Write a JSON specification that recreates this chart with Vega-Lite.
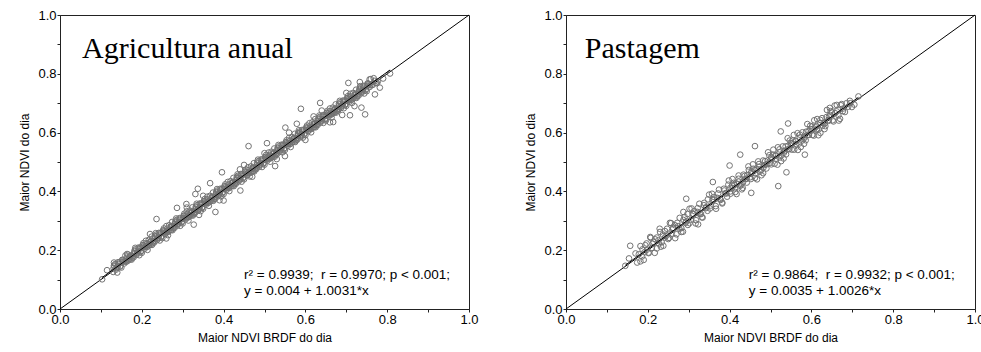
{
  "$schema": "https://vega.github.io/schema/vega-lite/v6.json",
  "background": "white",
  "padding": {"left": 18, "top": 8, "right": 0, "bottom": 0},
  "bounds": "flush",
  "spacing": 97,
  "datasets": {
    "agri": [
      {"x":0.130,"y":0.126},{"x":0.135,"y":0.153},{"x":0.140,"y":0.142},{"x":0.145,"y":0.158},{"x":0.150,"y":0.141},{"x":0.155,"y":0.164},{"x":0.160,"y":0.182},{"x":0.165,"y":0.163},{"x":0.170,"y":0.176},{"x":0.175,"y":0.168},
      {"x":0.180,"y":0.176},{"x":0.185,"y":0.203},{"x":0.190,"y":0.192},{"x":0.195,"y":0.208},{"x":0.200,"y":0.191},{"x":0.205,"y":0.214},{"x":0.210,"y":0.232},{"x":0.215,"y":0.213},{"x":0.220,"y":0.226},{"x":0.225,"y":0.218},
      {"x":0.230,"y":0.226},{"x":0.235,"y":0.253},{"x":0.240,"y":0.242},{"x":0.245,"y":0.258},{"x":0.250,"y":0.241},{"x":0.255,"y":0.264},{"x":0.260,"y":0.282},{"x":0.265,"y":0.263},{"x":0.270,"y":0.276},{"x":0.275,"y":0.268},
      {"x":0.280,"y":0.276},{"x":0.285,"y":0.303},{"x":0.290,"y":0.292},{"x":0.295,"y":0.308},{"x":0.300,"y":0.291},{"x":0.305,"y":0.314},{"x":0.310,"y":0.332},{"x":0.315,"y":0.313},{"x":0.320,"y":0.326},{"x":0.325,"y":0.318},
      {"x":0.330,"y":0.326},{"x":0.335,"y":0.353},{"x":0.340,"y":0.342},{"x":0.345,"y":0.358},{"x":0.350,"y":0.341},{"x":0.355,"y":0.364},{"x":0.360,"y":0.382},{"x":0.365,"y":0.363},{"x":0.370,"y":0.376},{"x":0.375,"y":0.368},
      {"x":0.380,"y":0.376},{"x":0.385,"y":0.403},{"x":0.390,"y":0.392},{"x":0.395,"y":0.408},{"x":0.400,"y":0.391},{"x":0.405,"y":0.414},{"x":0.410,"y":0.432},{"x":0.415,"y":0.413},{"x":0.420,"y":0.426},{"x":0.425,"y":0.418},
      {"x":0.430,"y":0.426},{"x":0.435,"y":0.453},{"x":0.440,"y":0.442},{"x":0.445,"y":0.458},{"x":0.450,"y":0.441},{"x":0.455,"y":0.464},{"x":0.460,"y":0.482},{"x":0.465,"y":0.463},{"x":0.470,"y":0.476},{"x":0.475,"y":0.468},
      {"x":0.480,"y":0.476},{"x":0.485,"y":0.503},{"x":0.490,"y":0.492},{"x":0.495,"y":0.508},{"x":0.500,"y":0.491},{"x":0.505,"y":0.514},{"x":0.510,"y":0.532},{"x":0.515,"y":0.513},{"x":0.520,"y":0.526},{"x":0.525,"y":0.518},
      {"x":0.530,"y":0.526},{"x":0.535,"y":0.553},{"x":0.540,"y":0.542},{"x":0.545,"y":0.558},{"x":0.550,"y":0.541},{"x":0.555,"y":0.564},{"x":0.560,"y":0.582},{"x":0.565,"y":0.563},{"x":0.570,"y":0.576},{"x":0.575,"y":0.568},
      {"x":0.580,"y":0.576},{"x":0.585,"y":0.603},{"x":0.590,"y":0.592},{"x":0.595,"y":0.608},{"x":0.600,"y":0.591},{"x":0.605,"y":0.614},{"x":0.610,"y":0.632},{"x":0.615,"y":0.613},{"x":0.620,"y":0.626},{"x":0.625,"y":0.618},
      {"x":0.630,"y":0.626},{"x":0.635,"y":0.653},{"x":0.640,"y":0.642},{"x":0.645,"y":0.658},{"x":0.650,"y":0.641},{"x":0.655,"y":0.664},{"x":0.660,"y":0.682},{"x":0.665,"y":0.663},{"x":0.670,"y":0.676},{"x":0.675,"y":0.668},
      {"x":0.680,"y":0.676},{"x":0.685,"y":0.703},{"x":0.690,"y":0.692},{"x":0.695,"y":0.708},{"x":0.700,"y":0.691},{"x":0.705,"y":0.714},{"x":0.710,"y":0.732},{"x":0.715,"y":0.713},{"x":0.720,"y":0.726},{"x":0.725,"y":0.718},
      {"x":0.730,"y":0.726},{"x":0.735,"y":0.753},{"x":0.740,"y":0.742},{"x":0.745,"y":0.758},{"x":0.750,"y":0.741},{"x":0.755,"y":0.764},{"x":0.760,"y":0.782},{"x":0.765,"y":0.763},{"x":0.770,"y":0.776},{"x":0.775,"y":0.768},
      {"x":0.132,"y":0.148},{"x":0.137,"y":0.134},{"x":0.142,"y":0.159},{"x":0.147,"y":0.144},{"x":0.152,"y":0.167},{"x":0.157,"y":0.155},{"x":0.162,"y":0.161},{"x":0.167,"y":0.185},{"x":0.172,"y":0.169},{"x":0.177,"y":0.174},
      {"x":0.182,"y":0.198},{"x":0.187,"y":0.184},{"x":0.192,"y":0.209},{"x":0.197,"y":0.194},{"x":0.202,"y":0.217},{"x":0.207,"y":0.205},{"x":0.212,"y":0.211},{"x":0.217,"y":0.235},{"x":0.222,"y":0.219},{"x":0.227,"y":0.224},
      {"x":0.232,"y":0.248},{"x":0.237,"y":0.234},{"x":0.242,"y":0.259},{"x":0.247,"y":0.244},{"x":0.252,"y":0.267},{"x":0.257,"y":0.255},{"x":0.262,"y":0.261},{"x":0.267,"y":0.285},{"x":0.272,"y":0.269},{"x":0.277,"y":0.274},
      {"x":0.282,"y":0.298},{"x":0.287,"y":0.284},{"x":0.292,"y":0.309},{"x":0.297,"y":0.294},{"x":0.302,"y":0.317},{"x":0.307,"y":0.305},{"x":0.312,"y":0.311},{"x":0.317,"y":0.335},{"x":0.322,"y":0.319},{"x":0.327,"y":0.324},
      {"x":0.332,"y":0.348},{"x":0.337,"y":0.334},{"x":0.342,"y":0.359},{"x":0.347,"y":0.344},{"x":0.352,"y":0.367},{"x":0.357,"y":0.355},{"x":0.362,"y":0.361},{"x":0.367,"y":0.385},{"x":0.372,"y":0.369},{"x":0.377,"y":0.374},
      {"x":0.382,"y":0.398},{"x":0.387,"y":0.384},{"x":0.392,"y":0.409},{"x":0.397,"y":0.394},{"x":0.402,"y":0.417},{"x":0.407,"y":0.405},{"x":0.412,"y":0.411},{"x":0.417,"y":0.435},{"x":0.422,"y":0.419},{"x":0.427,"y":0.424},
      {"x":0.432,"y":0.448},{"x":0.437,"y":0.434},{"x":0.442,"y":0.459},{"x":0.447,"y":0.444},{"x":0.452,"y":0.467},{"x":0.457,"y":0.455},{"x":0.462,"y":0.461},{"x":0.467,"y":0.485},{"x":0.472,"y":0.469},{"x":0.477,"y":0.474},
      {"x":0.482,"y":0.498},{"x":0.487,"y":0.484},{"x":0.492,"y":0.509},{"x":0.497,"y":0.494},{"x":0.502,"y":0.517},{"x":0.507,"y":0.505},{"x":0.512,"y":0.511},{"x":0.517,"y":0.535},{"x":0.522,"y":0.519},{"x":0.527,"y":0.524},
      {"x":0.532,"y":0.548},{"x":0.537,"y":0.534},{"x":0.542,"y":0.559},{"x":0.547,"y":0.544},{"x":0.552,"y":0.567},{"x":0.557,"y":0.555},{"x":0.562,"y":0.561},{"x":0.567,"y":0.585},{"x":0.572,"y":0.569},{"x":0.577,"y":0.574},
      {"x":0.582,"y":0.598},{"x":0.587,"y":0.584},{"x":0.592,"y":0.609},{"x":0.597,"y":0.594},{"x":0.602,"y":0.617},{"x":0.607,"y":0.605},{"x":0.612,"y":0.611},{"x":0.617,"y":0.635},{"x":0.622,"y":0.619},{"x":0.627,"y":0.624},
      {"x":0.632,"y":0.648},{"x":0.637,"y":0.634},{"x":0.642,"y":0.659},{"x":0.647,"y":0.644},{"x":0.652,"y":0.667},{"x":0.657,"y":0.655},{"x":0.662,"y":0.661},{"x":0.667,"y":0.685},{"x":0.672,"y":0.669},{"x":0.677,"y":0.674},
      {"x":0.682,"y":0.698},{"x":0.687,"y":0.684},{"x":0.692,"y":0.709},{"x":0.697,"y":0.694},{"x":0.702,"y":0.717},{"x":0.707,"y":0.705},{"x":0.712,"y":0.711},{"x":0.717,"y":0.735},{"x":0.722,"y":0.719},{"x":0.727,"y":0.724},
      {"x":0.732,"y":0.748},{"x":0.737,"y":0.734},{"x":0.742,"y":0.759},{"x":0.747,"y":0.744},{"x":0.752,"y":0.767},{"x":0.757,"y":0.755},{"x":0.762,"y":0.761},{"x":0.767,"y":0.785},{"x":0.772,"y":0.769},{"x":0.777,"y":0.774},
      {"x":0.131,"y":0.139},{"x":0.141,"y":0.145},{"x":0.151,"y":0.159},{"x":0.161,"y":0.165},{"x":0.171,"y":0.179},
      {"x":0.181,"y":0.189},{"x":0.191,"y":0.195},{"x":0.201,"y":0.209},{"x":0.211,"y":0.215},{"x":0.221,"y":0.229},
      {"x":0.231,"y":0.239},{"x":0.241,"y":0.245},{"x":0.251,"y":0.259},{"x":0.261,"y":0.265},{"x":0.271,"y":0.279},
      {"x":0.281,"y":0.289},{"x":0.291,"y":0.295},{"x":0.301,"y":0.309},{"x":0.311,"y":0.315},{"x":0.321,"y":0.329},
      {"x":0.331,"y":0.339},{"x":0.341,"y":0.345},{"x":0.351,"y":0.359},{"x":0.361,"y":0.365},{"x":0.371,"y":0.379},
      {"x":0.381,"y":0.389},{"x":0.391,"y":0.395},{"x":0.401,"y":0.409},{"x":0.411,"y":0.415},{"x":0.421,"y":0.429},
      {"x":0.431,"y":0.439},{"x":0.441,"y":0.445},{"x":0.451,"y":0.459},{"x":0.461,"y":0.465},{"x":0.471,"y":0.479},
      {"x":0.481,"y":0.489},{"x":0.491,"y":0.495},{"x":0.501,"y":0.509},{"x":0.511,"y":0.515},{"x":0.521,"y":0.529},
      {"x":0.531,"y":0.539},{"x":0.541,"y":0.545},{"x":0.551,"y":0.559},{"x":0.561,"y":0.565},{"x":0.571,"y":0.579},
      {"x":0.581,"y":0.589},{"x":0.591,"y":0.595},{"x":0.601,"y":0.609},{"x":0.611,"y":0.615},{"x":0.621,"y":0.629},
      {"x":0.631,"y":0.639},{"x":0.641,"y":0.645},{"x":0.651,"y":0.659},{"x":0.661,"y":0.665},{"x":0.671,"y":0.679},
      {"x":0.681,"y":0.689},{"x":0.691,"y":0.695},{"x":0.701,"y":0.709},{"x":0.711,"y":0.715},{"x":0.721,"y":0.729},
      {"x":0.731,"y":0.739},{"x":0.741,"y":0.745},{"x":0.751,"y":0.759},
      {"x":0.133,"y":0.145},{"x":0.138,"y":0.139},{"x":0.143,"y":0.153},{"x":0.148,"y":0.147},{"x":0.153,"y":0.167},{"x":0.158,"y":0.161},{"x":0.163,"y":0.174},{"x":0.168,"y":0.168},{"x":0.173,"y":0.182},{"x":0.178,"y":0.180},
      {"x":0.183,"y":0.195},{"x":0.188,"y":0.189},{"x":0.193,"y":0.203},{"x":0.198,"y":0.197},{"x":0.203,"y":0.217},{"x":0.208,"y":0.211},{"x":0.213,"y":0.224},{"x":0.218,"y":0.218},{"x":0.223,"y":0.232},{"x":0.228,"y":0.230},
      {"x":0.233,"y":0.245},{"x":0.238,"y":0.239},{"x":0.243,"y":0.253},{"x":0.248,"y":0.247},{"x":0.253,"y":0.267},{"x":0.258,"y":0.261},{"x":0.263,"y":0.274},{"x":0.268,"y":0.268},{"x":0.273,"y":0.282},{"x":0.278,"y":0.280},
      {"x":0.283,"y":0.295},{"x":0.288,"y":0.289},{"x":0.293,"y":0.303},{"x":0.298,"y":0.297},{"x":0.303,"y":0.317},{"x":0.308,"y":0.311},{"x":0.313,"y":0.324},{"x":0.318,"y":0.318},{"x":0.323,"y":0.332},{"x":0.328,"y":0.330},
      {"x":0.333,"y":0.345},{"x":0.338,"y":0.339},{"x":0.343,"y":0.353},{"x":0.348,"y":0.347},{"x":0.353,"y":0.367},{"x":0.358,"y":0.361},{"x":0.363,"y":0.374},{"x":0.368,"y":0.368},{"x":0.373,"y":0.382},{"x":0.378,"y":0.380},
      {"x":0.383,"y":0.395},{"x":0.388,"y":0.389},{"x":0.393,"y":0.403},{"x":0.398,"y":0.397},{"x":0.403,"y":0.417},{"x":0.408,"y":0.411},{"x":0.413,"y":0.424},{"x":0.418,"y":0.418},{"x":0.423,"y":0.432},{"x":0.428,"y":0.430},
      {"x":0.433,"y":0.445},{"x":0.438,"y":0.439},{"x":0.443,"y":0.453},{"x":0.448,"y":0.447},{"x":0.453,"y":0.467},{"x":0.458,"y":0.461},{"x":0.463,"y":0.474},{"x":0.468,"y":0.468},{"x":0.473,"y":0.482},{"x":0.478,"y":0.480},
      {"x":0.483,"y":0.495},{"x":0.488,"y":0.489},{"x":0.493,"y":0.503},{"x":0.498,"y":0.497},{"x":0.503,"y":0.517},{"x":0.508,"y":0.511},{"x":0.513,"y":0.524},{"x":0.518,"y":0.518},{"x":0.523,"y":0.532},{"x":0.528,"y":0.530},
      {"x":0.533,"y":0.545},{"x":0.538,"y":0.539},{"x":0.543,"y":0.553},{"x":0.548,"y":0.547},{"x":0.553,"y":0.567},{"x":0.558,"y":0.561},{"x":0.563,"y":0.574},{"x":0.568,"y":0.568},{"x":0.573,"y":0.582},{"x":0.578,"y":0.580},
      {"x":0.583,"y":0.595},{"x":0.588,"y":0.589},{"x":0.593,"y":0.603},{"x":0.598,"y":0.597},{"x":0.603,"y":0.617},{"x":0.608,"y":0.611},{"x":0.613,"y":0.624},{"x":0.618,"y":0.618},{"x":0.623,"y":0.632},{"x":0.628,"y":0.630},
      {"x":0.633,"y":0.645},{"x":0.638,"y":0.639},{"x":0.643,"y":0.653},{"x":0.648,"y":0.647},{"x":0.653,"y":0.667},{"x":0.658,"y":0.661},{"x":0.663,"y":0.674},{"x":0.668,"y":0.668},{"x":0.673,"y":0.682},{"x":0.678,"y":0.680},
      {"x":0.683,"y":0.695},{"x":0.688,"y":0.689},{"x":0.693,"y":0.703},{"x":0.698,"y":0.697},{"x":0.703,"y":0.717},{"x":0.708,"y":0.711},{"x":0.713,"y":0.724},{"x":0.718,"y":0.718},{"x":0.723,"y":0.732},{"x":0.728,"y":0.730},
      {"x":0.733,"y":0.745},{"x":0.738,"y":0.739},{"x":0.743,"y":0.753},{"x":0.748,"y":0.747},{"x":0.753,"y":0.767},{"x":0.758,"y":0.761},
      {"x":0.184,"y":0.208},{"x":0.194,"y":0.183},{"x":0.204,"y":0.224},{"x":0.214,"y":0.201},{"x":0.224,"y":0.246},
      {"x":0.234,"y":0.258},{"x":0.244,"y":0.233},{"x":0.254,"y":0.274},{"x":0.264,"y":0.251},{"x":0.274,"y":0.296},
      {"x":0.284,"y":0.308},{"x":0.294,"y":0.283},{"x":0.304,"y":0.324},{"x":0.314,"y":0.301},{"x":0.324,"y":0.346},
      {"x":0.334,"y":0.358},{"x":0.344,"y":0.333},{"x":0.354,"y":0.374},{"x":0.364,"y":0.351},{"x":0.374,"y":0.396},
      {"x":0.384,"y":0.408},{"x":0.394,"y":0.383},{"x":0.404,"y":0.424},{"x":0.414,"y":0.401},{"x":0.424,"y":0.446},
      {"x":0.434,"y":0.458},{"x":0.444,"y":0.433},{"x":0.454,"y":0.474},{"x":0.464,"y":0.451},{"x":0.474,"y":0.496},
      {"x":0.484,"y":0.508},{"x":0.494,"y":0.483},{"x":0.504,"y":0.524},{"x":0.514,"y":0.501},{"x":0.524,"y":0.546},
      {"x":0.534,"y":0.558},{"x":0.544,"y":0.533},{"x":0.554,"y":0.574},{"x":0.564,"y":0.551},{"x":0.574,"y":0.596},
      {"x":0.584,"y":0.608},{"x":0.594,"y":0.583},{"x":0.604,"y":0.624},{"x":0.614,"y":0.601},{"x":0.624,"y":0.646},
      {"x":0.634,"y":0.658},{"x":0.644,"y":0.633},{"x":0.654,"y":0.674},{"x":0.664,"y":0.651},{"x":0.674,"y":0.696},
      {"x":0.684,"y":0.708},{"x":0.694,"y":0.683},{"x":0.704,"y":0.724},{"x":0.714,"y":0.701},{"x":0.724,"y":0.746},
      {"x":0.734,"y":0.758},{"x":0.744,"y":0.733},
      {"x":0.22,"y":0.255},{"x":0.26,"y":0.24},{"x":0.35,"y":0.385},{"x":0.39,"y":0.37},{"x":0.44,"y":0.475},{"x":0.47,"y":0.45},{"x":0.5,"y":0.53},{"x":0.53,"y":0.51},{"x":0.56,"y":0.6},{"x":0.6,"y":0.575},
      {"x":0.64,"y":0.675},{"x":0.66,"y":0.635},{"x":0.7,"y":0.735},{"x":0.72,"y":0.69},{"x":0.31,"y":0.345},{"x":0.34,"y":0.32},{"x":0.45,"y":0.49},{"x":0.55,"y":0.52},{"x":0.62,"y":0.655},{"x":0.69,"y":0.66},
      {"x":0.103,"y":0.101},{"x":0.236,"y":0.306},{"x":0.327,"y":0.287},{"x":0.286,"y":0.344},{"x":0.309,"y":0.357},{"x":0.331,"y":0.391},{"x":0.337,"y":0.409},{"x":0.367,"y":0.428},{"x":0.380,"y":0.330},{"x":0.396,"y":0.465},
      {"x":0.461,"y":0.554},{"x":0.441,"y":0.403},{"x":0.506,"y":0.564},{"x":0.526,"y":0.486},{"x":0.551,"y":0.617},{"x":0.589,"y":0.681},{"x":0.636,"y":0.701},{"x":0.737,"y":0.685},{"x":0.746,"y":0.662},{"x":0.705,"y":0.769},
      {"x":0.733,"y":0.772},{"x":0.782,"y":0.753},{"x":0.770,"y":0.730},{"x":0.807,"y":0.801},{"x":0.757,"y":0.781},{"x":0.790,"y":0.784},{"x":0.579,"y":0.630},{"x":0.514,"y":0.516},{"x":0.709,"y":0.659},{"x":0.668,"y":0.636},
      {"x":0.132,"y":0.158},{"x":0.140,"y":0.124},{"x":0.115,"y":0.132},{"x":0.164,"y":0.187},{"x":0.400,"y":0.369}
    ],
    "past": [
      {"x":0.170,"y":0.189},{"x":0.174,"y":0.158},{"x":0.178,"y":0.186},{"x":0.182,"y":0.214},{"x":0.186,"y":0.179},{"x":0.190,"y":0.167},{"x":0.194,"y":0.217},{"x":0.198,"y":0.202},{"x":0.202,"y":0.190},{"x":0.206,"y":0.245},{"x":0.210,"y":0.208},{"x":0.214,"y":0.228},
      {"x":0.218,"y":0.237},{"x":0.222,"y":0.206},{"x":0.226,"y":0.234},{"x":0.230,"y":0.262},{"x":0.234,"y":0.227},{"x":0.238,"y":0.215},{"x":0.242,"y":0.265},{"x":0.246,"y":0.250},{"x":0.250,"y":0.238},{"x":0.254,"y":0.293},{"x":0.258,"y":0.256},{"x":0.262,"y":0.276},
      {"x":0.266,"y":0.285},{"x":0.270,"y":0.254},{"x":0.274,"y":0.282},{"x":0.278,"y":0.310},{"x":0.282,"y":0.275},{"x":0.286,"y":0.263},{"x":0.290,"y":0.313},{"x":0.294,"y":0.298},{"x":0.298,"y":0.286},{"x":0.302,"y":0.341},{"x":0.306,"y":0.304},{"x":0.310,"y":0.324},
      {"x":0.314,"y":0.333},{"x":0.318,"y":0.302},{"x":0.322,"y":0.330},{"x":0.326,"y":0.358},{"x":0.330,"y":0.323},{"x":0.334,"y":0.311},{"x":0.338,"y":0.361},{"x":0.342,"y":0.346},{"x":0.346,"y":0.334},{"x":0.350,"y":0.389},{"x":0.354,"y":0.352},{"x":0.358,"y":0.372},
      {"x":0.362,"y":0.381},{"x":0.366,"y":0.350},{"x":0.370,"y":0.378},{"x":0.374,"y":0.406},{"x":0.378,"y":0.371},{"x":0.382,"y":0.359},{"x":0.386,"y":0.409},{"x":0.390,"y":0.394},{"x":0.394,"y":0.382},{"x":0.398,"y":0.437},{"x":0.402,"y":0.400},{"x":0.406,"y":0.420},
      {"x":0.410,"y":0.429},{"x":0.414,"y":0.398},{"x":0.418,"y":0.426},{"x":0.422,"y":0.454},{"x":0.426,"y":0.419},{"x":0.430,"y":0.407},{"x":0.434,"y":0.457},{"x":0.438,"y":0.442},{"x":0.442,"y":0.430},{"x":0.446,"y":0.485},{"x":0.450,"y":0.448},{"x":0.454,"y":0.468},
      {"x":0.458,"y":0.477},{"x":0.462,"y":0.446},{"x":0.466,"y":0.474},{"x":0.470,"y":0.502},{"x":0.474,"y":0.467},{"x":0.478,"y":0.455},{"x":0.482,"y":0.505},{"x":0.486,"y":0.490},{"x":0.490,"y":0.478},{"x":0.494,"y":0.533},{"x":0.498,"y":0.496},{"x":0.502,"y":0.516},
      {"x":0.506,"y":0.525},{"x":0.510,"y":0.494},{"x":0.514,"y":0.522},{"x":0.518,"y":0.550},{"x":0.522,"y":0.515},{"x":0.526,"y":0.503},{"x":0.530,"y":0.553},{"x":0.534,"y":0.538},{"x":0.538,"y":0.526},{"x":0.542,"y":0.581},{"x":0.546,"y":0.544},{"x":0.550,"y":0.564},
      {"x":0.554,"y":0.573},{"x":0.558,"y":0.542},{"x":0.562,"y":0.570},{"x":0.566,"y":0.598},{"x":0.570,"y":0.563},{"x":0.574,"y":0.551},{"x":0.578,"y":0.601},{"x":0.582,"y":0.586},{"x":0.586,"y":0.574},{"x":0.590,"y":0.629},{"x":0.594,"y":0.592},{"x":0.598,"y":0.612},
      {"x":0.602,"y":0.621},{"x":0.606,"y":0.590},{"x":0.610,"y":0.618},{"x":0.614,"y":0.646},{"x":0.618,"y":0.611},{"x":0.622,"y":0.599},{"x":0.626,"y":0.649},{"x":0.630,"y":0.634},{"x":0.634,"y":0.622},{"x":0.638,"y":0.677},{"x":0.642,"y":0.640},{"x":0.646,"y":0.660},
      {"x":0.650,"y":0.669},{"x":0.654,"y":0.638},{"x":0.658,"y":0.666},{"x":0.662,"y":0.694},{"x":0.666,"y":0.659},{"x":0.670,"y":0.647},{"x":0.674,"y":0.697},{"x":0.678,"y":0.682},{"x":0.682,"y":0.670},{"x":0.686,"y":0.700},{"x":0.690,"y":0.688},{"x":0.694,"y":0.708},
      {"x":0.182,"y":0.162},{"x":0.187,"y":0.203},{"x":0.192,"y":0.193},{"x":0.197,"y":0.223},{"x":0.202,"y":0.192},{"x":0.207,"y":0.242},{"x":0.212,"y":0.222},{"x":0.217,"y":0.191},{"x":0.222,"y":0.243},{"x":0.227,"y":0.223},
      {"x":0.232,"y":0.212},{"x":0.237,"y":0.253},{"x":0.242,"y":0.243},{"x":0.247,"y":0.273},{"x":0.252,"y":0.242},{"x":0.257,"y":0.292},{"x":0.262,"y":0.272},{"x":0.267,"y":0.241},{"x":0.272,"y":0.293},{"x":0.277,"y":0.273},
      {"x":0.282,"y":0.262},{"x":0.287,"y":0.303},{"x":0.292,"y":0.293},{"x":0.297,"y":0.323},{"x":0.302,"y":0.292},{"x":0.307,"y":0.342},{"x":0.312,"y":0.322},{"x":0.317,"y":0.291},{"x":0.322,"y":0.343},{"x":0.327,"y":0.323},
      {"x":0.332,"y":0.312},{"x":0.337,"y":0.353},{"x":0.342,"y":0.343},{"x":0.347,"y":0.373},{"x":0.352,"y":0.342},{"x":0.357,"y":0.392},{"x":0.362,"y":0.372},{"x":0.367,"y":0.341},{"x":0.372,"y":0.393},{"x":0.377,"y":0.373},
      {"x":0.382,"y":0.362},{"x":0.387,"y":0.403},{"x":0.392,"y":0.393},{"x":0.397,"y":0.423},{"x":0.402,"y":0.392},{"x":0.407,"y":0.442},{"x":0.412,"y":0.422},{"x":0.417,"y":0.391},{"x":0.422,"y":0.443},{"x":0.427,"y":0.423},
      {"x":0.432,"y":0.412},{"x":0.437,"y":0.453},{"x":0.442,"y":0.443},{"x":0.447,"y":0.473},{"x":0.452,"y":0.442},{"x":0.457,"y":0.492},{"x":0.462,"y":0.472},{"x":0.467,"y":0.441},{"x":0.472,"y":0.493},{"x":0.477,"y":0.473},
      {"x":0.482,"y":0.462},{"x":0.487,"y":0.503},{"x":0.492,"y":0.493},{"x":0.497,"y":0.523},{"x":0.502,"y":0.492},{"x":0.507,"y":0.542},{"x":0.512,"y":0.522},{"x":0.517,"y":0.491},{"x":0.522,"y":0.543},{"x":0.527,"y":0.523},
      {"x":0.532,"y":0.512},{"x":0.537,"y":0.553},{"x":0.542,"y":0.543},{"x":0.547,"y":0.573},{"x":0.552,"y":0.542},{"x":0.557,"y":0.592},{"x":0.562,"y":0.572},{"x":0.567,"y":0.541},{"x":0.572,"y":0.593},{"x":0.577,"y":0.573},
      {"x":0.582,"y":0.562},{"x":0.587,"y":0.603},{"x":0.592,"y":0.593},{"x":0.597,"y":0.623},{"x":0.602,"y":0.592},{"x":0.607,"y":0.642},{"x":0.612,"y":0.622},{"x":0.617,"y":0.591},{"x":0.622,"y":0.643},{"x":0.627,"y":0.623},
      {"x":0.632,"y":0.612},{"x":0.637,"y":0.653},{"x":0.642,"y":0.643},{"x":0.647,"y":0.673},{"x":0.652,"y":0.642},{"x":0.657,"y":0.692},{"x":0.662,"y":0.672},{"x":0.667,"y":0.641},{"x":0.672,"y":0.693},{"x":0.677,"y":0.673},
      {"x":0.402,"y":0.412},{"x":0.413,"y":0.411},{"x":0.422,"y":0.433},{"x":0.433,"y":0.432},{"x":0.443,"y":0.455},
      {"x":0.452,"y":0.462},{"x":0.463,"y":0.461},{"x":0.472,"y":0.483},{"x":0.483,"y":0.482},{"x":0.493,"y":0.505},
      {"x":0.502,"y":0.512},{"x":0.513,"y":0.511},{"x":0.522,"y":0.533},{"x":0.533,"y":0.532},{"x":0.543,"y":0.555},
      {"x":0.552,"y":0.562},{"x":0.563,"y":0.561},{"x":0.572,"y":0.583},{"x":0.583,"y":0.582},{"x":0.593,"y":0.605},
      {"x":0.602,"y":0.612},{"x":0.613,"y":0.611},{"x":0.622,"y":0.633},{"x":0.633,"y":0.632},{"x":0.643,"y":0.655},
      {"x":0.145,"y":0.147},{"x":0.157,"y":0.215},{"x":0.154,"y":0.172},{"x":0.229,"y":0.273},{"x":0.294,"y":0.375},{"x":0.287,"y":0.330},{"x":0.323,"y":0.288},{"x":0.359,"y":0.432},{"x":0.400,"y":0.488},{"x":0.426,"y":0.525},
      {"x":0.462,"y":0.554},{"x":0.453,"y":0.395},{"x":0.519,"y":0.418},{"x":0.539,"y":0.465},{"x":0.543,"y":0.631},{"x":0.525,"y":0.604},{"x":0.584,"y":0.525},{"x":0.645,"y":0.684},{"x":0.715,"y":0.723},{"x":0.699,"y":0.687},
      {"x":0.695,"y":0.700},{"x":0.613,"y":0.610},{"x":0.705,"y":0.695}
    ],
    "diag": [{"x":0,"y":0},{"x":1,"y":1}],
    "regA": [{"x":0.103,"y":0.107},{"x":0.807,"y":0.813}],
    "regP": [{"x":0.145,"y":0.149},{"x":0.715,"y":0.720}],
    "titleA": [{"x":0.054,"y":0.854,"t":"Agricultura anual"}],
    "titleP": [{"x":0.046,"y":0.854,"t":"Pastagem"}],
    "annA": [{"x":0.450,"y":0.102,"t":"r² = 0.9939;\u00a0\u00a0r = 0.9970; p < 0.001;"},{"x":0.450,"y":0.049,"t":"y = 0.004 + 1.0031*x"}],
    "annP": [{"x":0.447,"y":0.102,"t":"r² = 0.9864;\u00a0\u00a0r = 0.9932; p < 0.001;"},{"x":0.447,"y":0.049,"t":"y = 0.0035 + 1.0026*x"}]
  },
  "config": {
    "view": {"stroke": "#222", "strokeWidth": 1},
    "font": "Liberation Sans",
    "axis": {
      "grid": false,
      "domainColor": "#222",
      "tickColor": "#222",
      "labelColor": "black",
      "titleColor": "black",
      "labelFont": "Liberation Sans",
      "titleFont": "Liberation Sans",
      "labelFontSize": 13,
      "titleFontSize": 12,
      "titleFontWeight": "normal",
      "tickSize": 3,
      "labelPadding": 1,
      "titlePadding": 6,
      "values": [0,0.1,0.2,0.3,0.4,0.5,0.6,0.7,0.8,0.9,1.0],
      "labelExpr": "(round(datum.value*10) % 2 == 0) ? format(datum.value, '.1f') : ''",
      "labelFlush": false,
      "labelOverlap": false
    }
  },
  "hconcat": [
    {
      "width": 409,
      "height": 294,
      "layer": [
        {"data": {"name": "diag"}, "mark": {"type": "line", "color": "black", "strokeWidth": 1},
         "encoding": {"x": {"field": "x", "type": "quantitative", "scale": {"domain": [0,1], "nice": false}, "title": "Maior NDVI BRDF do dia"},
                      "y": {"field": "y", "type": "quantitative", "scale": {"domain": [0,1], "nice": false}, "title": "Maior NDVI do dia"}}},
        {"data": {"name": "agri"}, "mark": {"type": "point", "shape": "circle", "filled": false, "stroke": "#737373", "strokeWidth": 1, "size": 32, "opacity": 1},
         "encoding": {"x": {"field": "x", "type": "quantitative"}, "y": {"field": "y", "type": "quantitative"}}},
        {"data": {"name": "regA"}, "mark": {"type": "line", "color": "black", "strokeWidth": 1},
         "encoding": {"x": {"field": "x", "type": "quantitative"}, "y": {"field": "y", "type": "quantitative"}}},
        {"data": {"name": "titleA"}, "mark": {"type": "text", "font": "Liberation Serif", "fontSize": 30, "align": "left", "baseline": "alphabetic", "color": "black"},
         "encoding": {"x": {"field": "x", "type": "quantitative"}, "y": {"field": "y", "type": "quantitative"}, "text": {"field": "t"}}},
        {"data": {"name": "annA"}, "mark": {"type": "text", "font": "Liberation Sans", "fontSize": 13.5, "align": "left", "baseline": "alphabetic", "color": "black"},
         "encoding": {"x": {"field": "x", "type": "quantitative"}, "y": {"field": "y", "type": "quantitative"}, "text": {"field": "t"}}}
      ]
    },
    {
      "width": 409,
      "height": 294,
      "layer": [
        {"data": {"name": "diag"}, "mark": {"type": "line", "color": "black", "strokeWidth": 1},
         "encoding": {"x": {"field": "x", "type": "quantitative", "scale": {"domain": [0,1], "nice": false}, "title": "Maior NDVI BRDF do dia"},
                      "y": {"field": "y", "type": "quantitative", "scale": {"domain": [0,1], "nice": false}, "title": "Maior NDVI do dia"}}},
        {"data": {"name": "past"}, "mark": {"type": "point", "shape": "circle", "filled": false, "stroke": "#737373", "strokeWidth": 1, "size": 32, "opacity": 1},
         "encoding": {"x": {"field": "x", "type": "quantitative"}, "y": {"field": "y", "type": "quantitative"}}},
        {"data": {"name": "regP"}, "mark": {"type": "line", "color": "black", "strokeWidth": 1},
         "encoding": {"x": {"field": "x", "type": "quantitative"}, "y": {"field": "y", "type": "quantitative"}}},
        {"data": {"name": "titleP"}, "mark": {"type": "text", "font": "Liberation Serif", "fontSize": 30, "align": "left", "baseline": "alphabetic", "color": "black"},
         "encoding": {"x": {"field": "x", "type": "quantitative"}, "y": {"field": "y", "type": "quantitative"}, "text": {"field": "t"}}},
        {"data": {"name": "annP"}, "mark": {"type": "text", "font": "Liberation Sans", "fontSize": 13.5, "align": "left", "baseline": "alphabetic", "color": "black"},
         "encoding": {"x": {"field": "x", "type": "quantitative"}, "y": {"field": "y", "type": "quantitative"}, "text": {"field": "t"}}}
      ]
    }
  ]
}
